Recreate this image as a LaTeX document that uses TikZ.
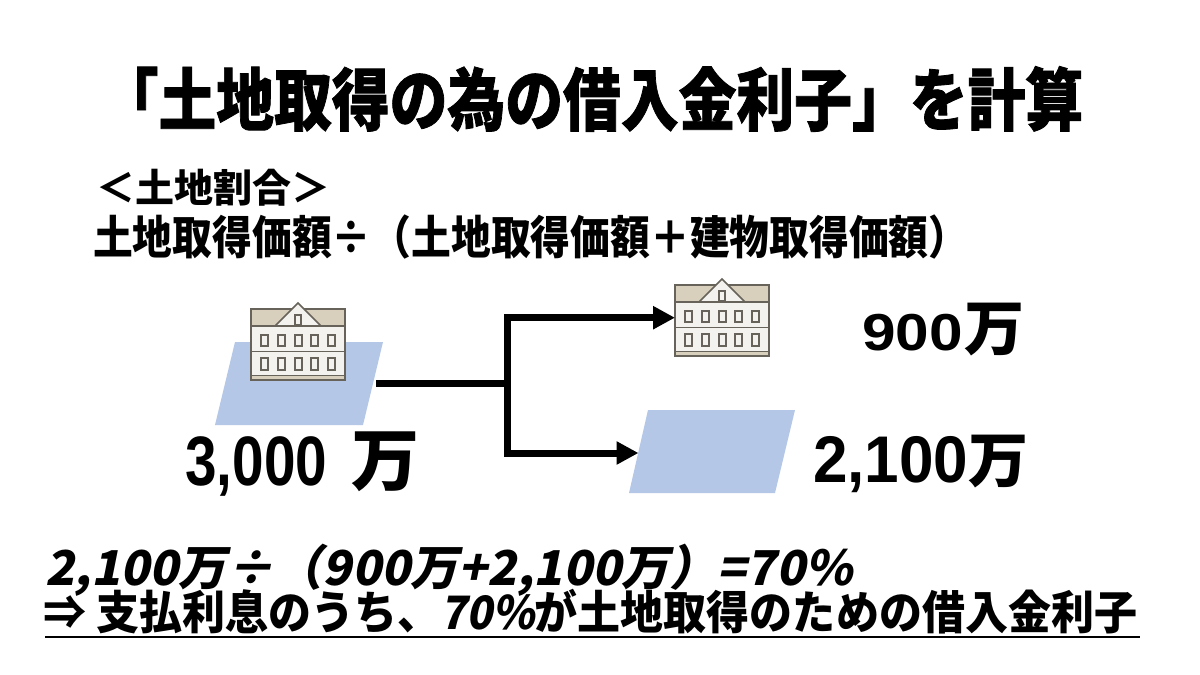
\documentclass[tikz,border=0pt]{standalone}
\usepackage{fontspec}
\usetikzlibrary{arrows.meta}
\newfontfamily\jp{Noto Sans CJK JP}
\newfontfamily\jph{Noto Sans CJK JP}[FakeBold=1.2]
\newfontfamily\jpsl{Noto Sans CJK JP}[FakeSlant=0.2]
\newfontfamily\digfont{Liberation Sans}
\definecolor{landblue}{HTML}{B4C7E7}
\definecolor{bbeige}{HTML}{D8D0BC}
\definecolor{bwall}{HTML}{F4F2EF}
\definecolor{boutline}{HTML}{67635B}
\tikzset{
  bline/.style={draw=boutline, line width=1.6pt},
  bwin/.style={draw=boutline, fill=bwall, line width=1.9pt},
  land/.style={fill=landblue},
  conn/.style={line width=7pt, -{Triangle[length=22pt,width=22pt]}},
  trunk/.style={line width=7pt},
  txt/.style={inner sep=0pt, text=black},
  bldg/.pic={
    \fill[bbeige] (0,0) rectangle (94,17);
    \fill[bwall] (0,17) rectangle (94,71);
    \fill[bbeige] (0,66.5) rectangle (94,71);
    \draw[bline] (0,66.5) -- (94,66.5);
    \draw[bline] (0,42.3) -- (94,42.3);
    \draw[bline] (0,0) rectangle (94,71);
    \fill[bwall] (24,17) -- (47,-6) -- (70,17) -- cycle;
    \draw[bline] (0,17) -- (94,17);
    \draw[bline, line join=miter] (24,17) -- (47,-6) -- (70,17);
    \draw[bwin] (43.7,5.7) rectangle (50.3,16.3);
    \foreach \xx in {10.3,27,43.7,60.3,77} {
      \draw[bwin] (\xx,26.3) rectangle ++(7,11);
      \draw[bwin] (\xx,49) rectangle ++(7,11.7);
    }
  }
}
\begin{document}
\begin{tikzpicture}[x=1pt,y=-1pt]
\useasboundingbox (0,0) rectangle (1200,675);
\fill[white] (0,0) rectangle (1200,675);

% title
\node[txt] (title) at (592,99) {\jph\bfseries\fontsize{68}{68}\selectfont\scalebox{0.85}[1]{「土地取得の為の借入金利子」を計算}};

% subtitle and formula
\node[txt, anchor=west] (sub) at (96,188) {\jp\bfseries\fontsize{39}{39}\selectfont\scalebox{1.0}[1]{＜土地割合＞}};
\node[txt, anchor=west] (formula) at (93,237) {\jp\bfseries\fontsize{46}{46}\selectfont\scalebox{0.865}[1]{土地取得価額÷（土地取得価額＋建物取得価額）}};

% land shapes
\fill[land] (235,342) -- (383,342) -- (363,425) -- (215,425) -- cycle;
\fill[land] (648,410) -- (795,410) -- (775,493) -- (629,493) -- cycle;

% buildings
\pic at (251,309) {bldg};
\pic at (675,285) {bldg};
\node[inner sep=0pt, minimum width=94pt, minimum height=77pt, anchor=north west] (bldR) at (675,279) {};

% connectors
\coordinate (src) at (376,383);
\coordinate (junc) at (507,383);
\coordinate (landRin) at (638.5,453);
\draw[trunk] (src) -- (junc);
\draw[conn] (junc) |- (bldR.west);
\draw[conn] (junc) |- (landRin);

% amounts
\node[txt, anchor=base west] (total) at (185,485) {{\digfont\bfseries\fontsize{70}{70}\selectfont\scalebox{0.81}[1]{3,000}}\hspace{24pt}{\jp\bfseries\fontsize{68}{68}\selectfont 万}};
\node[txt, anchor=base west] (bamt) at (862,350) {{\digfont\bfseries\fontsize{52}{52}\selectfont\scalebox{1.16}[1]{900}}\hspace{2pt}{\jp\bfseries\fontsize{60}{60}\selectfont 万}};
\node[txt, anchor=base west] (lamt) at (813,482) {{\digfont\bfseries\fontsize{66}{66}\selectfont\scalebox{0.94}[1]{2,100}}{\jp\bfseries\fontsize{60}{60}\selectfont 万}};

% bottom text
\node[txt, anchor=west] (calc) at (45,570) {\jpsl\bfseries\fontsize{48}{48}\selectfont 2,100万÷（900万+2,100万）=70\%};
\node[txt, anchor=west] (concl) at (43,612) {\fontsize{46}{46}\selectfont\scalebox{0.935}[1]{{\jp\bfseries ⇒ 支払利息のうち、}{\jpsl\bfseries 70\%}{\jp\bfseries が土地取得のための借入金利子}}};
\coordinate (ulA) at (45,637);
\coordinate (ulB) at (1140,637);
\draw[line width=2.5pt] (ulA) -- (ulB);
\end{tikzpicture}
\end{document}
